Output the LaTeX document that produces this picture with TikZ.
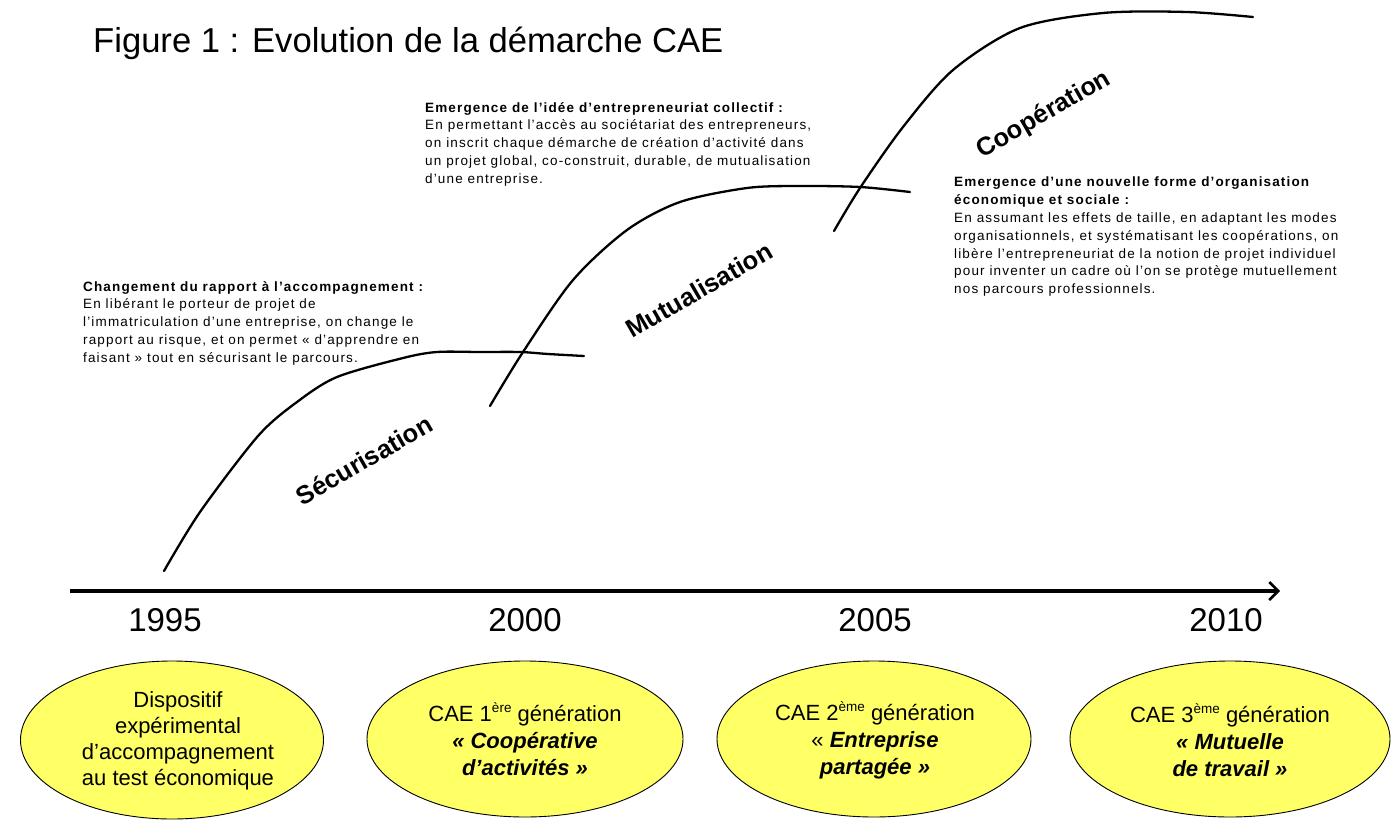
\documentclass[tikz,border=0pt]{standalone}
\usepackage{fontspec}
\setmainfont{Liberation Sans}
\usetikzlibrary{arrows.meta,shapes.geometric}
\definecolor{elly}{RGB}{255,255,102}
\newcommand{\expo}[1]{\raisebox{0.75ex}{\fontsize{13.5}{13.5}\selectfont #1}}
\tikzset{
  curve/.style={line width=2.3pt, line join=round, line cap=round},
  era/.style={ellipse, draw, fill=elly, line width=0.9pt, inner sep=0pt},
  eratext/.style={align=center, inner sep=0pt, font=\fontsize{22}{27}\selectfont},
  ann/.style={anchor=north west, align=left, inner sep=0pt,
    font=\fontsize{13.5}{17.8}\selectfont\addfontfeature{LetterSpace=8.5}},
  phase/.style={font=\bfseries\fontsize{25.5}{30}\selectfont, rotate=30, inner sep=0pt},
  year/.style={font=\fontsize{33}{36}\selectfont, inner sep=0pt},
}
\begin{document}
\begin{tikzpicture}[x=1pt,y=-1pt]
\useasboundingbox (0,0) rectangle (1399,832);

\node[anchor=base west, inner sep=0pt, font=\fontsize{34.6}{40}\selectfont] (title) at (93,53) {Figure 1 : Evolution de la démarche CAE};

% curves
\draw[curve] plot[smooth, tension=0.5] coordinates {(164,571) (200,512) (258,436) (297,402) (337,377) (403,358) (437,352) (480,352) (520,352) (548,354) (584,356)};
\draw[curve] plot[smooth, tension=0.5] coordinates {(490,406) (523,352) (573,280) (627,230) (680,202) (747,188) (800,186) (860,187) (910,192)};
\draw[curve] plot[smooth, tension=0.5] coordinates {(834,231) (860,188) (903,127) (953,70) (1020,28) (1103,13) (1187,12) (1253,17)};

% annotations
\node[ann] (a1) at (83,281) {\textbf{Changement du rapport à l’accompagnement :}\\
En libérant le porteur de projet de\\
l’immatriculation d’une entreprise, on change le\\
rapport au risque, et on permet « d’apprendre en\\
faisant » tout en sécurisant le parcours.};
\node[ann] (a2) at (425,102) {\textbf{Emergence de l’idée d’entrepreneuriat collectif :}\\
En permettant l’accès au sociétariat des entrepreneurs,\\
on inscrit chaque démarche de création d’activité dans\\
un projet global, co-construit, durable, de mutualisation\\
d’une entreprise.};
\node[ann] (a3) at (954,177) {\textbf{Emergence d’une nouvelle forme d’organisation}\\
\textbf{économique et sociale :}\\
En assumant les effets de taille, en adaptant les modes\\
organisationnels, et systématisant les coopérations, on\\
libère l’entrepreneuriat de la notion de projet individuel\\
pour inventer un cadre où l’on se protège mutuellement\\
nos parcours professionnels.};

% phase labels
\node[phase] (p1) at (364,460) {Sécurisation};
\node[phase] (p2) at (699,290) {Mutualisation};
\node[phase] (p3) at (1044,115) {Coopération};

% time axis
\coordinate (axs) at (70,591);
\coordinate (axe) at (1280,591);
\draw[line width=4pt, -{Straight Barb[length=9pt,width=18pt,line width=2.5pt]}] (axs) -- (axe);

\node[year] (y1) at (165,620) {1995};
\node[year] (y2) at (525,620) {2000};
\node[year] (y3) at (875,620) {2005};
\node[year] (y4) at (1226,620) {2010};

% ellipses
\node[era, minimum width=303pt, minimum height=158pt] (e1) at (172,740) {};
\node[eratext, font=\fontsize{22}{26}\selectfont] (t1) at (178,741) {Dispositif\\expérimental\\d’accompagnement\\au test économique};
\node[era, minimum width=316pt, minimum height=156pt] (e2) at (525,739) {};
\node[eratext] (t2) at (525,739) {CAE 1\expo{ère} génération\\\textbf{\textit{« Coopérative}}\\\textbf{\textit{d’activités »}}};
\node[era, minimum width=314pt, minimum height=156pt] (e3) at (874,739) {};
\node[eratext] (t3) at (875,740) {CAE 2\expo{ème} génération\\« \textbf{\textit{Entreprise}}\\\textbf{\textit{partagée »}}};
\node[era, minimum width=320pt, minimum height=156pt] (e4) at (1230,739) {};
\node[eratext] (t4) at (1230,740) {CAE 3\expo{ème} génération\\\textbf{\textit{« Mutuelle}}\\\textbf{\textit{de travail »}}};
\end{tikzpicture}
\end{document}
